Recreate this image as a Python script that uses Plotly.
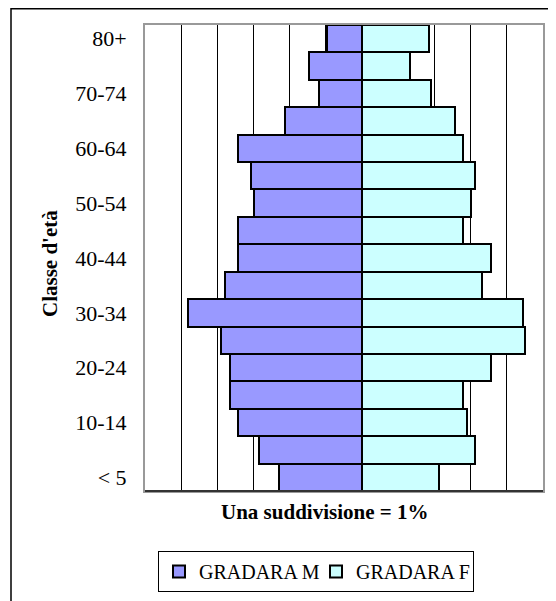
import plotly.graph_objects as go

categories = ["< 5", "5-9", "10-14", "15-19", "20-24", "25-29", "30-34", "35-39",
              "40-44", "45-49", "50-54", "55-59", "60-64", "65-69", "70-74", "75-79", "80+"]
male = [2.30, 2.86, 3.42, 3.64, 3.64, 3.91, 4.80, 3.80, 3.42, 3.42, 2.99, 3.08, 3.42, 2.14, 1.20, 1.47, 0.98]
female = [2.12, 3.11, 2.89, 2.78, 3.55, 4.50, 4.44, 3.32, 3.55, 2.78, 3.00, 3.11, 2.78, 2.56, 1.90, 1.33, 1.84]
tick_labels = ["< 5", "10-14", "20-24", "30-34", "40-44", "50-54", "60-64", "70-74", "80+"]

FONT = "Liberation Serif, Times New Roman, serif"

fig = go.Figure()
fig.add_trace(go.Bar(
    y=categories, x=[-v for v in male], orientation="h", name="GRADARA M",
    marker=dict(color="#9999FF", line=dict(color="black", width=2)),
))
fig.add_trace(go.Bar(
    y=categories, x=female, orientation="h", name="GRADARA F",
    marker=dict(color="#CCFFFF", line=dict(color="black", width=2)),
))

OFF = 8  # page body margin
W, H = 548, 593
L, T = 145 - OFF, 25 - OFF
R = W - (543 - OFF)
B = H - (491 - OFF)
pw, ph = W - L - R, H - T - B

def px_x(p):
    return (p - OFF - L) / pw

def px_y(p):
    return 1 - (p - OFF - T) / ph

fig.update_layout(
    width=W, height=H,
    margin=dict(l=L, r=R, t=T, b=B, autoexpand=False),
    paper_bgcolor="white", plot_bgcolor="white",
    barmode="relative", bargap=0,
    font=dict(family=FONT, color="black", size=21),
    showlegend=True,
    legend=dict(
        orientation="h", x=px_x(158), y=px_y(551), xanchor="left", yanchor="top",
        bordercolor="black", borderwidth=1, bgcolor="white",
        font=dict(family=FONT, size=20, color="black"),
        itemwidth=30, entrywidth=112, entrywidthmode="pixels",
    ),
    xaxis=dict(
        range=[-6, 5], dtick=1, tick0=0, showgrid=True, gridcolor="black", gridwidth=1,
        showticklabels=False, ticks="", zeroline=False,
        showline=True, linecolor="#999999", linewidth=2, mirror=True,
    ),
    yaxis=dict(
        type="category", categoryorder="array", categoryarray=categories,
        tickmode="array", tickvals=tick_labels, ticktext=tick_labels,
        ticks="", ticklabelstandoff=12, showgrid=False, automargin=False,
        showline=True, linecolor="#999999", linewidth=2, mirror=True,
        tickfont=dict(family=FONT, size=22, color="black"),
    ),
    annotations=[
        dict(text="<b>Una suddivisione = 1%</b>", xref="paper", yref="paper",
             x=px_x(324), y=px_y(512), xanchor="center", yanchor="middle",
             showarrow=False, font=dict(family=FONT, size=21, color="black")),
        dict(text="<b>Classe d'età</b>", xref="paper", yref="paper",
             x=px_x(50), y=px_y(264), xanchor="center", yanchor="middle",
             textangle=-90, showarrow=False,
             font=dict(family=FONT, size=21, color="black")),
    ],
    shapes=[
        dict(type="rect", xref="paper", yref="paper",
             x0=px_x(11), x1=px_x(555), y0=px_y(610), y1=px_y(8.8),
             line=dict(color="black", width=1.5), fillcolor="rgba(0,0,0,0)", layer="below"),
        dict(type="line", xref="paper", yref="paper",
             x0=0, x1=1, y0=0, y1=0, line=dict(color="#333333", width=2)),
    ],
)

fig.write_html("out.html")
